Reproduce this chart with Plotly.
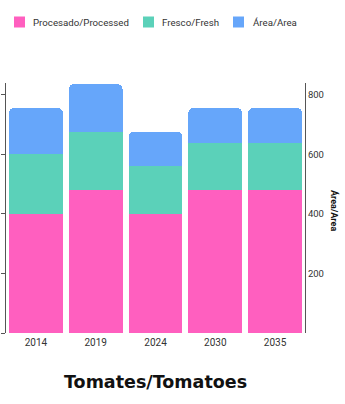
import plotly.graph_objects as go

# Tomato production by year (stacked), plus harvested area
years = ["2014", "2019", "2024", "2030", "2035"]
processed = [200, 240, 200, 240, 240]
fresh = [100, 98, 80, 80, 80]
area = [78, 80, 58, 58, 58]

series_names = ["Procesado/Processed", "Fresco/Fresh", "Área/Area"]
series_colors = ["#FF5FBF", "#5BD1B9", "#66A6FA"]

area_ticks = [200, 400, 600, 800]

W, H = 345, 404
ML, MR, MT, MB = 6, 40, 83, 71
PW, PH = W - ML - MR, H - MT - MB


def px_x(x):
    return (x - ML) / PW


def px_y(y):
    return (H - MB - y) / PH


fig = go.Figure()
for name, vals, color in zip(series_names, [processed, fresh, area], series_colors):
    fig.add_trace(go.Bar(x=years, y=vals, name=name, marker_color=color,
                         marker_line_width=0, showlegend=False))

# invisible trace so the right-hand area axis is drawn
fig.add_trace(go.Scatter(x=years, y=[None] * len(years), yaxis="y2",
                         showlegend=False, hoverinfo="skip"))

fig.update_layout(
    width=W, height=H,
    margin=dict(l=ML, r=MR, t=MT, b=MB),
    paper_bgcolor="white", plot_bgcolor="white",
    barmode="stack", bargap=0.1, barcornerradius=5,
    font=dict(family="Roboto", size=10, color="#333"),
    xaxis=dict(showline=False, ticks="", tickfont=dict(size=10, color="#333"),
               showgrid=False, automargin=False, ticklabelstandoff=2),
    yaxis=dict(range=[0, 420], showgrid=False, showline=True, linecolor="#555",
               linewidth=1, ticks="outside", ticklen=4, tickcolor="#555",
               showticklabels=False, dtick=100, zeroline=False, automargin=False),
    yaxis2=dict(range=[0, 840], overlaying="y", side="right", showgrid=False,
                showline=True, linecolor="#555", linewidth=1, ticks="",
                tickvals=area_ticks, tickfont=dict(size=9.5, color="#333"),
                zeroline=False, automargin=False),
)

# legend row: swatch then label for each series
legend_swatch_x = [14, 143, 233]
legend_text_x = [31, 160, 251]
legend_y = 22
for name, color, sx, tx in zip(series_names, series_colors, legend_swatch_x, legend_text_x):
    fig.add_shape(type="rect", xref="paper", yref="paper",
                  x0=px_x(sx), x1=px_x(sx + 11),
                  y0=px_y(legend_y - 5.5), y1=px_y(legend_y + 5.5),
                  fillcolor=color, line_width=0)
    fig.add_annotation(text=name, xref="paper", yref="paper",
                       x=px_x(tx), y=px_y(legend_y), xanchor="left", yanchor="middle",
                       showarrow=False, font=dict(size=9.7, color="#333"))

fig.add_annotation(text="<b>Área/Area</b>", xref="paper", yref="paper",
                   x=px_x(335), y=px_y(210), textangle=90, showarrow=False,
                   xanchor="center", yanchor="middle",
                   font=dict(size=9, color="#111"))
fig.add_annotation(text="<b>Tomates/Tomatoes</b>", xref="paper", yref="paper",
                   x=px_x(155), y=px_y(382), xanchor="center", yanchor="middle",
                   showarrow=False,
                   font=dict(family="DejaVu Sans", size=17.5, color="#111"))

fig.write_html("out.html")
